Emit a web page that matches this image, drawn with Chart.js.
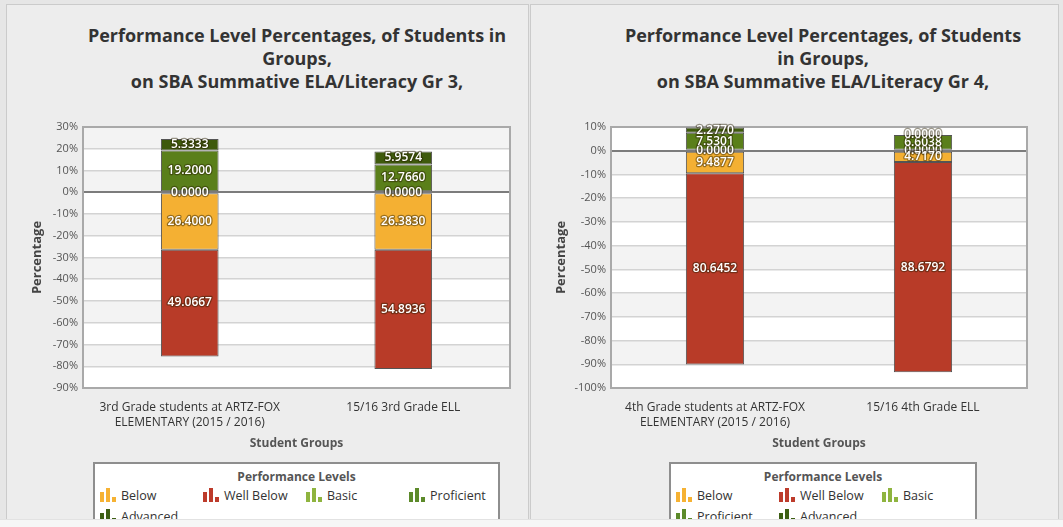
<!DOCTYPE html>
<html>
<head>
    <title>Performance Levels</title>
    <style>
        body {
            margin: 0;
            padding: 0;
            width: 1063px;
            height: 527px;
            overflow: hidden;
            position: relative;
            background-color: #e6e6e6;
            font-family: "Open Sans", Arial, sans-serif;
        }
        .panel {
            position: absolute;
            top: 4px;
            height: 540px;
            background-color: #ededed;
            border: 1px solid #cbcbcb;
        }
        .title {
            position: absolute;
            top: 24px;
            width: 520px;
            text-align: center;
            font-weight: bold;
            font-size: 18px;
            line-height: 23px;
            color: #333333;
        }
        .chart-box {
            position: absolute;
            top: 115px;
            height: 340px;
        }
        .legend {
            position: absolute;
            top: 462px;
            height: 80px;
            background: #ffffff;
            border: 2px solid #8e8e8e;
            box-sizing: border-box;
        }
        .legend h4 {
            margin: 5px 0 0 0;
            text-align: center;
            font-size: 12px;
            color: #555555;
            line-height: 16px;
        }
        .legend .items {
            display: grid;
            padding-left: 5px;
            row-gap: 4px;
            margin-top: 2px;
        }
        .legend .item {
            font-size: 12.5px;
            color: #333333;
            line-height: 17px;
            white-space: nowrap;
        }
        .icon {
            display: inline-block;
            width: 16px;
            height: 14px;
            position: relative;
            vertical-align: -2px;
            margin-right: 5px;
        }
        .icon span {
            position: absolute;
            bottom: 0;
            width: 4px;
        }
        .strip {
            position: absolute;
            left: 0;
            top: 519px;
            width: 1063px;
            height: 8px;
            background: #f6f6f6;
            border-top: 1px solid #e2e2e2;
        }
    </style>
    <script src="https://cdn.jsdelivr.net/npm/chart.js"></script>
</head>
<body>
    <div class="panel" style="left:6px; width:521px;"></div>
    <div class="panel" style="left:530px; width:527px;"></div>

    <div class="title" style="left:37px;">Performance Level Percentages, of Students in<br>Groups,<br>on SBA Summative ELA/Literacy Gr 3,</div>
    <div class="title" style="left:563px;">Performance Level Percentages, of Students<br>in Groups,<br>on SBA Summative ELA/Literacy Gr 4,</div>

    <div class="chart-box" style="left:6px; width:521px;"><canvas id="chart3"></canvas></div>
    <div class="chart-box" style="left:531px; width:526px;"><canvas id="chart4"></canvas></div>

    <div class="legend" id="legend3" style="left:93px; width:407px;"></div>
    <div class="legend" id="legend4" style="left:669px; width:308px;"></div>

    <div class="strip"></div>

    <script>
        // categories
        const groups3 = [["3rd Grade students at ARTZ-FOX", "ELEMENTARY (2015 / 2016)"], "15/16 3rd Grade ELL"];
        const groups4 = [["4th Grade students at ARTZ-FOX", "ELEMENTARY (2015 / 2016)"], "15/16 4th Grade ELL"];

        const levels = ["Below", "Well Below", "Basic", "Proficient", "Advanced"];

        // Grade 3 percentages
        const below3 = [26.4000, 26.3830];
        const wellBelow3 = [49.0667, 54.8936];
        const basic3 = [0.0000, 0.0000];
        const proficient3 = [19.2000, 12.7660];
        const advanced3 = [5.3333, 5.9574];

        // Grade 4 percentages
        const below4 = [9.4877, 4.7170];
        const wellBelow4 = [80.6452, 88.6792];
        const basic4 = [0.0000, 0.0000];
        const proficient4 = [7.5301, 6.6038];
        const advanced4 = [2.2770, 0.0000];

        // y axis ranges
        const yRange3 = [-90, 30];
        const yRange4 = [-100, 10];

        const barColors = ["#f4b033", "#b83b28", "#8db53c", "#5a7f1a", "#3e5a0c"];
        const legendColors = ["#f6b233", "#bd3b2b", "#8fb43f", "#5c8a2a", "#3d5e14"];

        // stacking order: positive levels first so zero values sit on the zero line
        const stackOrder = [2, 3, 4, 0, 1];

        // alternating grey / white bands between the grid lines
        const bands = {
            id: 'bands',
            beforeDraw(chart) {
                const y = chart.scales.y, a = chart.chartArea, ctx = chart.ctx;
                ctx.save();
                ctx.fillStyle = '#ffffff';
                ctx.fillRect(a.left, a.top, a.right - a.left, a.bottom - a.top);
                ctx.fillStyle = '#f3f3f3';
                for (let v = y.min, k = 0; v < y.max; v += 10, k++) {
                    if (k % 2 === 1) {
                        const top = y.getPixelForValue(v + 10);
                        const bot = y.getPixelForValue(v);
                        ctx.fillRect(a.left, top, a.right - a.left, bot - top);
                    }
                }
                ctx.restore();
            },
            beforeDatasetsDraw(chart) {
                const a = chart.chartArea, ctx = chart.ctx;
                ctx.save();
                ctx.strokeStyle = '#a9a9a9';
                ctx.lineWidth = 2;
                ctx.strokeRect(a.left, a.top, a.right - a.left, a.bottom - a.top);
                ctx.restore();
            }
        };

        // value written in the middle of each segment
        const valueLabels = {
            id: 'valueLabels',
            afterDatasetsDraw(chart) {
                const ctx = chart.ctx;
                ctx.save();
                ctx.font = '600 12px "Open Sans"';
                ctx.textAlign = 'center';
                ctx.textBaseline = 'middle';
                ctx.lineJoin = 'round';
                chart.data.datasets.forEach((ds, i) => {
                    chart.getDatasetMeta(i).data.forEach((bar, j) => {
                        const txt = Math.abs(ds.data[j]).toFixed(4);
                        const yc = (bar.y + bar.base) / 2;
                        ctx.lineWidth = 2.5;
                        ctx.strokeStyle = 'rgba(40, 30, 0, 0.45)';
                        ctx.strokeText(txt, bar.x, yc);
                        ctx.fillStyle = '#ffffff';
                        ctx.fillText(txt, bar.x, yc);
                    });
                });
                ctx.restore();
            }
        };

        function makeChart(id, groups, series, range, axisWidth, titlePad, barPct, rightPad) {
            const datasets = stackOrder.map(i => ({
                label: levels[i],
                // Below and Well Below are drawn under the zero line
                data: series[i].map(v => i < 2 ? -v : v),
                backgroundColor: barColors[i],
                borderColor: '#545454',
                borderWidth: 1,
                borderSkipped: false,
                categoryPercentage: 1,
                barPercentage: barPct
            }));

            return new Chart(document.getElementById(id), {
                type: 'bar',
                data: { labels: groups, datasets: datasets },
                options: {
                    responsive: true,
                    maintainAspectRatio: false,
                    animation: false,
                    layout: { padding: { top: 12, right: rightPad, left: 0, bottom: 0 } },
                    plugins: {
                        legend: { display: false },
                        tooltip: { enabled: false }
                    },
                    scales: {
                        x: {
                            stacked: true,
                            grid: { display: false, drawTicks: false },
                            border: { display: false },
                            ticks: {
                                padding: 12,
                                color: '#333333',
                                font: { family: 'Open Sans', size: 12, lineHeight: 1.25 }
                            },
                            title: {
                                display: true,
                                text: 'Student Groups',
                                color: '#555555',
                                font: { family: 'Open Sans', size: 12, weight: 'bold' },
                                padding: { top: 0, bottom: 4 }
                            },
                            afterFit: s => { s.height = 67; }
                        },
                        y: {
                            stacked: true,
                            min: range[0],
                            max: range[1],
                            ticks: {
                                stepSize: 10,
                                padding: 5,
                                color: '#555555',
                                font: { family: 'Open Sans', size: 11 },
                                callback: v => v + '%'
                            },
                            grid: {
                                drawTicks: false,
                                color: c => c.tick && c.tick.value === 0 ? '#7c7c7c' : '#d3d3d3',
                                lineWidth: c => c.tick && c.tick.value === 0 ? 2 : 1.5
                            },
                            border: { display: false },
                            title: {
                                display: true,
                                text: 'Percentage',
                                color: '#444444',
                                font: { family: 'Open Sans', size: 13, weight: 'bold' },
                                padding: { top: titlePad, bottom: 0 }
                            },
                            afterFit: s => { s.width = axisWidth; }
                        }
                    }
                },
                plugins: [bands, valueLabels]
            });
        }

        makeChart('chart3', groups3, [below3, wellBelow3, basic3, proficient3, advanced3], yRange3, 77, 23, 0.27, 17);
        makeChart('chart4', groups4, [below4, wellBelow4, basic4, proficient4, advanced4], yRange4, 80, 22, 0.28, 30);

        // legend boxes with the little bar icons
        function buildLegend(id, cols) {
            const box = document.getElementById(id);
            let html = '<h4>Performance Levels</h4><div class="items" style="grid-template-columns: repeat(' + cols + ', 103px);">';
            levels.forEach((name, i) => {
                const c = legendColors[i];
                html += '<div class="item"><span class="icon">' +
                    '<span style="left:0;height:10px;background:' + c + '"></span>' +
                    '<span style="left:6px;height:14px;background:' + c + '"></span>' +
                    '<span style="left:12px;height:5px;background:' + c + '"></span>' +
                    '</span>' + name + '</div>';
            });
            box.innerHTML = html + '</div>';
        }
        buildLegend('legend3', 4);
        buildLegend('legend4', 3);
    </script>
</body>
</html>
